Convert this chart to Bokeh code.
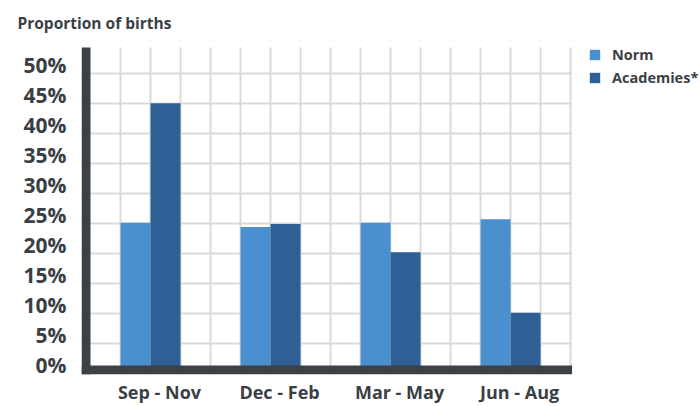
from bokeh.plotting import figure
from bokeh.models import (FixedTicker, BoxAnnotation, Legend, LegendItem,
                          ColumnDataSource)
from bokeh.embed import file_html
from bokeh.resources import INLINE

# ---- data ----
categories = ["Sep - Nov", "Dec - Feb", "Mar - May", "Jun - Aug"]
norm = [25.1, 24.4, 25.1, 25.7]
academies = [45.0, 24.9, 20.2, 10.1]
y_ticks = [0, 5, 10, 15, 20, 25, 30, 35, 40, 45, 50]
y_tick_labels = ["0%", "5%", "10%", "15%", "20%", "25%", "30%", "35%", "40%", "45%", "50%"]

LIGHT = "#4A90CF"
DARK = "#2E6096"
AXIS = "#3C4147"
GRID = "#DADADA"
TEXT = "#3A3F45"
FONT = "Open Sans"

# each category spans 4 grid units; bars are 1 unit wide each
centers = [i * 4 + 2 for i in range(len(categories))]
src = ColumnDataSource(dict(
    x_norm=[c - 0.5 for c in centers],
    x_acad=[c + 0.5 for c in centers],
    norm=norm,
    acad=academies,
))

X0, X1 = -0.3, 20.33
Y0, Y1 = -0.17, 55.46
YTOP = 54.3
XEND = 16.05
LABEL_LIFT = 1.4   # the reference draws its tick labels a little above the grid lines

p = figure(width=700, height=406, output_backend="svg", toolbar_location=None,
           x_range=(X0, X1), y_range=(Y0, Y1),
           min_border_left=81, min_border_right=0, min_border_top=40,
           min_border_bottom=31)
p.outline_line_color = None
p.background_fill_color = "white"
p.border_fill_color = "white"

r1 = p.vbar(x="x_norm", top="norm", width=1.0, bottom=0, source=src,
            fill_color=LIGHT, line_color=None)
r2 = p.vbar(x="x_acad", top="acad", width=1.0, bottom=0, source=src,
            fill_color=DARK, line_color=None)

# grids
p.xgrid.ticker = FixedTicker(ticks=list(range(1, 17)))
p.xgrid.grid_line_color = GRID
p.xgrid.grid_line_width = 2
p.ygrid.ticker = FixedTicker(ticks=y_ticks[1:])
p.ygrid.grid_line_color = GRID
p.ygrid.grid_line_width = 2
p.xgrid.level = "underlay"
p.ygrid.level = "underlay"

# blank out the grid to the right of the plot area / above it
p.add_layout(BoxAnnotation(left=XEND, right=X1, bottom=Y0, top=Y1,
                           fill_color="white", fill_alpha=1, line_color=None,
                           level="underlay"))
p.add_layout(BoxAnnotation(left=X0, right=X1, bottom=YTOP, top=Y1,
                           fill_color="white", fill_alpha=1, line_color=None,
                           level="underlay"))

# thick dark axis bars
p.add_layout(BoxAnnotation(left=X0, right=0, bottom=Y0, top=YTOP,
                           fill_color=AXIS, fill_alpha=1, line_color=None))
p.add_layout(BoxAnnotation(left=X0, right=XEND, bottom=Y0, top=1.33,
                           fill_color=AXIS, fill_alpha=1, line_color=None))

# y axis
yt = [t + LABEL_LIFT for t in y_ticks]
p.yaxis.ticker = FixedTicker(ticks=yt)
p.yaxis.major_label_overrides = {t: l for t, l in zip(yt, y_tick_labels)}
p.yaxis.axis_line_color = None
p.yaxis.major_tick_line_color = None
p.yaxis.minor_tick_line_color = None
p.yaxis.major_tick_out = 0
p.yaxis.major_label_standoff = 15
p.yaxis.major_label_text_font = FONT
p.yaxis.major_label_text_font_style = "bold"
p.yaxis.major_label_text_font_size = "21px"
p.yaxis.major_label_text_color = TEXT

# x axis
xt = [c + 0.3 for c in centers]
p.xaxis.ticker = FixedTicker(ticks=xt)
p.xaxis.major_label_overrides = {t: l for t, l in zip(xt, categories)}
p.xaxis.axis_line_color = None
p.xaxis.major_tick_line_color = None
p.xaxis.minor_tick_line_color = None
p.xaxis.major_tick_out = 0
p.xaxis.major_label_standoff = 5
p.xaxis.major_label_text_font = FONT
p.xaxis.major_label_text_font_style = "bold"
p.xaxis.major_label_text_font_size = "18px"
p.xaxis.major_label_text_color = TEXT

# title
p.title.text = "Proportion of births"
p.title.align = "left"
p.title.vertical_align = "top"
p.title.offset = -64
p.title.standoff = 10
p.title.text_font = FONT
p.title.text_font_style = "bold"
p.title.text_font_size = "15.5px"
p.title.text_color = TEXT

# legend (inside the extended frame, right of the grid)
legend = Legend(items=[LegendItem(label="Norm", renderers=[r1]),
                       LegendItem(label="Academies*", renderers=[r2])],
                glyph_width=13, glyph_height=13, label_height=13,
                label_standoff=11, spacing=4, padding=0, margin=0,
                border_line_color=None, background_fill_alpha=0,
                label_text_font=FONT, label_text_font_style="bold",
                label_text_font_size="14.5px", label_text_color=TEXT,
                location=(507, 287))
p.add_layout(legend)

open("out.html", "w").write(file_html(p, INLINE))
